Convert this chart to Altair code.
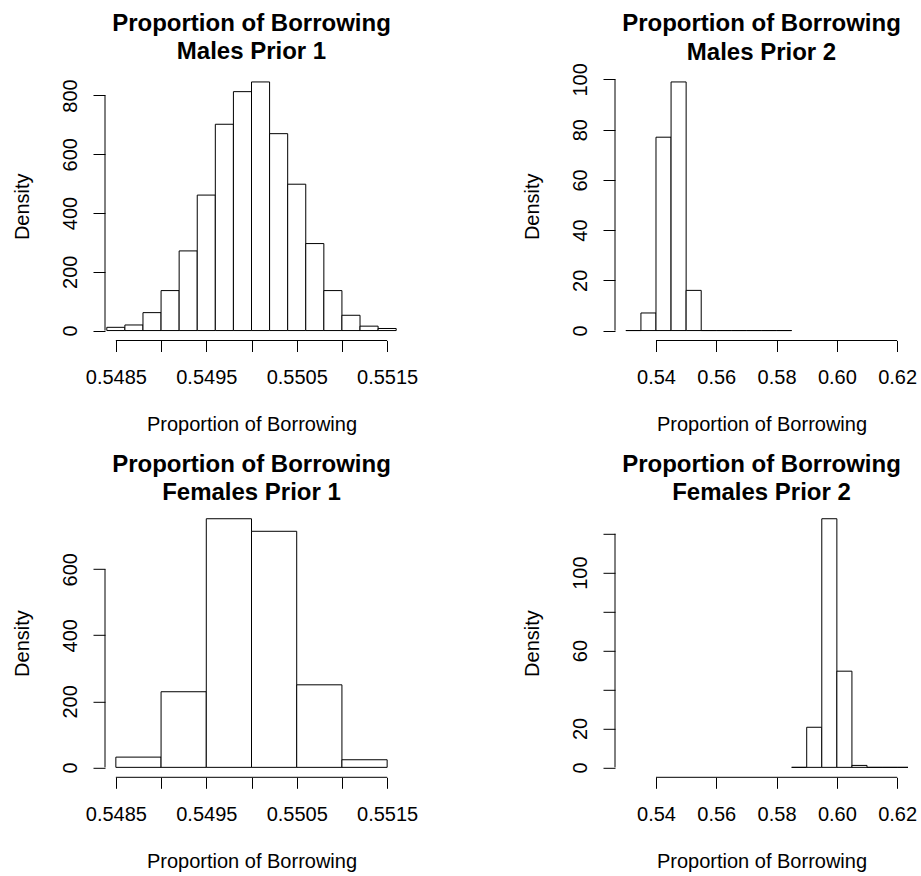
import json
import altair as alt
import pandas as pd

FONT = "Liberation Sans"
MAIN = "Proportion of Borrowing"
X_TITLE = "Proportion of Borrowing"
Y_TITLE = "Density"

# ---- Males Prior 1 ----
m1_breaks = [0.5484, 0.5486, 0.5488, 0.5490, 0.5492, 0.5494, 0.5496, 0.5498, 0.5500,
             0.5502, 0.5504, 0.5506, 0.5508, 0.5510, 0.5512, 0.5514, 0.5516]
m1_density = [11, 19, 61, 136, 271, 461, 702, 813, 846, 670, 498, 296, 136, 52, 15, 7]
m1_xticks = [0.5485, 0.5490, 0.5495, 0.5500, 0.5505, 0.5510, 0.5515]
m1_xlabels = ["0.5485", "0.5495", "0.5505", "0.5515"]
m1_yticks = [0, 200, 400, 600, 800]
m1_ylabels = ["0", "200", "400", "600", "800"]
m1_xlim = [0.5485, 0.5515]

# ---- Males Prior 2 ----
m2_breaks = [0.530, 0.535, 0.540, 0.545, 0.550, 0.555, 0.560, 0.565, 0.570, 0.575, 0.580, 0.585]
m2_density = [0, 7, 77, 99, 16, 0, 0, 0, 0, 0, 0]
m2_xticks = [0.54, 0.56, 0.58, 0.60, 0.62]
m2_xlabels = ["0.54", "0.56", "0.58", "0.60", "0.62"]
m2_yticks = [0, 20, 40, 60, 80, 100]
m2_ylabels = ["0", "20", "40", "60", "80", "100"]
m2_xlim = [0.53, 0.62]

# ---- Females Prior 1 ----
f1_breaks = [0.5485, 0.5490, 0.5495, 0.5500, 0.5505, 0.5510, 0.5515]
f1_density = [31, 229, 753, 715, 250, 23]
f1_xticks = [0.5485, 0.5490, 0.5495, 0.5500, 0.5505, 0.5510, 0.5515]
f1_xlabels = ["0.5485", "0.5495", "0.5505", "0.5515"]
f1_yticks = [0, 200, 400, 600]
f1_ylabels = ["0", "200", "400", "600"]
f1_xlim = [0.5485, 0.5515]

# ---- Females Prior 2 ----
f2_breaks = [0.585, 0.590, 0.595, 0.600, 0.605, 0.610, 0.615, 0.620, 0.625]
f2_density = [0, 20.6, 127.7, 49.4, 1.0, 0, 0, 0]
f2_xticks = [0.54, 0.56, 0.58, 0.60, 0.62]
f2_xlabels = ["0.54", "0.56", "0.58", "0.60", "0.62"]
f2_yticks = [0, 20, 40, 60, 80, 100, 120]
f2_ylabels = ["0", "20", "60", "100"]
f2_xlim = [0.53, 0.62]

W, H = 293, 268.5


def panel(breaks, dens, xticks, xlabels, xfmt, yticks, ylabels, xlim, subtitle, toff):
    bars = pd.DataFrame({"lo": breaks[:-1], "hi": breaks[1:], "density": dens,
                         "base": [0] * len(dens)})
    span = xlim[1] - xlim[0]
    xdom = [xlim[0] - 0.04 * span, xlim[1] + 0.04 * span]
    ymax = max(dens)
    ydom = [-0.04 * ymax, 1.04 * ymax]
    xscale = alt.Scale(domain=xdom, nice=False, zero=False)
    yscale = alt.Scale(domain=ydom, nice=False, zero=False)
    xaxis = alt.Axis(
        values=xticks, format=xfmt,
        labelExpr="indexof(%s, datum.label) >= 0 ? datum.label : ''" % json.dumps(xlabels),
        domain=False, grid=False, tickSize=11, tickColor="black", tickWidth=1,
        labelPadding=32, labelBaseline="alphabetic", labelAlign="center",
        labelFont=FONT, labelFontSize=20, labelColor="black",
        labelOverlap=False, labelFlush=False, labelBound=False,
        title=X_TITLE, titleFont=FONT, titleFontSize=20, titleFontWeight="normal",
        titleColor="black", titleX=W / 2, titleY=90, titleAlign="center",
        titleBaseline="alphabetic")
    yaxis = alt.Axis(
        values=yticks, format="d",
        labelExpr="indexof(%s, datum.label) >= 0 ? datum.label : ''" % json.dumps(ylabels),
        domain=False, grid=False, tickSize=12, tickColor="black", tickWidth=1,
        labelPadding=17, labelAngle=270, labelAlign="center", labelBaseline="alphabetic",
        labelFont=FONT, labelFontSize=20, labelColor="black",
        labelOverlap=False, labelFlush=False, labelBound=False,
        title=Y_TITLE, titleFont=FONT, titleFontSize=20, titleFontWeight="normal",
        titleColor="black", titleX=-76.5, titleY=H / 2, titleAngle=270,
        titleAlign="center", titleBaseline="alphabetic")

    rects = alt.Chart(bars).mark_rect(
        fill="white", stroke="black", strokeWidth=1, clip=True
    ).encode(
        x=alt.X("lo:Q", scale=xscale, axis=xaxis), x2="hi:Q",
        y=alt.Y("density:Q", scale=yscale, axis=yaxis), y2="base:Q")

    xline = alt.Chart(pd.DataFrame({"a": [xticks[0]], "b": [xticks[-1]]})).mark_rule(
        color="black", strokeWidth=1
    ).encode(x=alt.X("a:Q", scale=xscale, axis=xaxis), x2="b:Q", y=alt.value(H))

    yline = alt.Chart(pd.DataFrame({"a": [yticks[0]], "b": [yticks[-1]]})).mark_rule(
        color="black", strokeWidth=1
    ).encode(y=alt.Y("a:Q", scale=yscale, axis=yaxis), y2="b:Q", x=alt.value(0))

    return alt.layer(rects, xline, yline).properties(
        width=W, height=H,
        title=alt.Title(text=[MAIN, subtitle], font=FONT, fontSize=24, fontWeight="bold",
                        color="black", anchor="middle", frame="group", baseline="bottom",
                        lineHeight=28.3, offset=toff))


p1 = panel(m1_breaks, m1_density, m1_xticks, m1_xlabels, ".4f", m1_yticks, m1_ylabels,
           m1_xlim, "Males Prior 1", -15.9)
p2 = panel(m2_breaks, m2_density, m2_xticks, m2_xlabels, ".2f", m2_yticks, m2_ylabels,
           m2_xlim, "Males Prior 2", -25.9)
p3 = panel(f1_breaks, f1_density, f1_xticks, f1_xlabels, ".4f", f1_yticks, f1_ylabels,
           f1_xlim, "Females Prior 1", -20.6)
p4 = panel(f2_breaks, f2_density, f2_xticks, f2_xlabels, ".2f", f2_yticks, f2_ylabels,
           f2_xlim, "Females Prior 2", -20.6)

chart = alt.concat(
    p1, p2, p3, p4, columns=2, spacing={"row": 167.8, "column": 217}, bounds="flush"
).configure_view(stroke=None).properties(
    padding={"left": 12, "top": 11, "right": 0, "bottom": 0}, background="white")

chart.save("out.html", embed_options={"renderer": "svg", "actions": False})
